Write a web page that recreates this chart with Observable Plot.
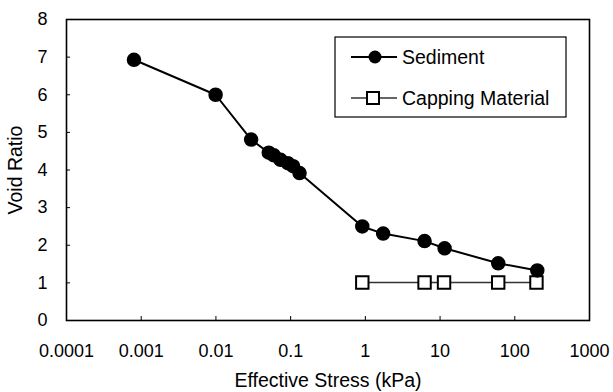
<!DOCTYPE html>
<html>
<head>
<meta charset="utf-8">
<script src="https://cdn.jsdelivr.net/npm/d3@7"></script>
<script src="https://cdn.jsdelivr.net/npm/@observablehq/plot@0.6"></script>
<style>
  html, body { margin: 0; padding: 0; background: #fff; }
  #chart { position: relative; width: 613px; height: 392px; }
</style>
</head>
<body>
<div id="chart"></div>
<script>
// ---- data ----
const sedimentStress = [0.0008, 0.0099, 0.0296, 0.051, 0.0596, 0.0733, 0.0918, 0.108, 0.1316, 0.91, 1.73, 6.2, 11.5, 60, 200];
const sedimentVoid   = [6.93, 6.00, 4.81, 4.46, 4.39, 4.27, 4.18, 4.10, 3.92, 2.50, 2.31, 2.11, 1.92, 1.52, 1.33];
const cappingStress  = [0.91, 6.2, 11.3, 60, 195];
const cappingVoid    = [1.01, 1.01, 1.01, 1.01, 1.01];
const xTicks = [0.0001, 0.001, 0.01, 0.1, 1, 10, 100, 1000];
const xTickLabels = ["0.0001", "0.001", "0.01", "0.1", "1", "10", "100", "1000"];
const yTicks = [0, 1, 2, 3, 4, 5, 6, 7, 8];
const seriesNames = ["Sediment", "Capping Material"];

const sediment = sedimentStress.map((s, i) => ({s, e: sedimentVoid[i]}));
const capping = cappingStress.map((s, i) => ({s, e: cappingVoid[i]}));

const W = 613, H = 392;
const mL = 66, mR = 24, mT = 19, mB = 72;
const innerW = W - mL - mR, innerH = H - mT - mB;

const chart = Plot.plot({
  width: W, height: H,
  marginLeft: mL, marginRight: mR, marginTop: mT, marginBottom: mB,
  style: {fontFamily: "'Liberation Sans', Arial, sans-serif", fontSize: "18px", color: "black", background: "white"},
  x: {type: "log", domain: [0.0001, 1000]},
  y: {domain: [0, 8]},
  marks: [
    Plot.axisX(xTicks, {tickSize: 0, tickPadding: 24, tickFormat: d => xTickLabels[xTicks.indexOf(d)], fontSize: 18, label: null}),
    Plot.axisX({ticks: [], label: "Effective Stress (kPa)", labelAnchor: "center", labelArrow: "none", labelOffset: 66, fontSize: 19.5}),
    Plot.axisY(yTicks, {tickSize: 0, tickPadding: 19, tickFormat: d => String(d), fontSize: 18, label: null}),
    Plot.axisY({ticks: [], label: "Void Ratio", labelAnchor: "center", labelArrow: "none", labelOffset: 58, fontSize: 19.5}),
    Plot.tickX(xTicks, {x: d => d, insetTop: innerH - 4, stroke: "black", strokeWidth: 1}),
    Plot.tickY(yTicks, {y: d => d, insetRight: innerW - 4, stroke: "black", strokeWidth: 1}),
    Plot.frame({stroke: "black", strokeWidth: 1.6}),
    Plot.line(capping, {x: "s", y: "e", stroke: "#333", strokeWidth: 1.3}),
    Plot.dot(capping, {x: "s", y: "e", symbol: "square", r: 7, fill: "white", stroke: "black", strokeWidth: 2}),
    Plot.line(sediment, {x: "s", y: "e", stroke: "black", strokeWidth: 2}),
    Plot.dot(sediment, {x: "s", y: "e", r: 6.5, fill: "black", stroke: "black"})
  ]
});

document.getElementById("chart").appendChild(chart);

// ---- legend ----
const svg = d3.select(chart);
const lg = svg.append("g")
  .attr("font-family", "'Liberation Sans', Arial, sans-serif")
  .attr("font-size", 19.5)
  .attr("text-anchor", "start");
lg.append("rect").attr("x", 335).attr("y", 37).attr("width", 231).attr("height", 80)
  .attr("fill", "white").attr("stroke", "black").attr("stroke-width", 1.2);
// entry 1
lg.append("line").attr("x1", 351).attr("x2", 397).attr("y1", 57).attr("y2", 57).attr("stroke", "black").attr("stroke-width", 2);
lg.append("circle").attr("cx", 375).attr("cy", 57).attr("r", 6.5).attr("fill", "black");
lg.append("text").attr("x", 402).attr("y", 57).attr("dy", "0.35em").attr("text-anchor", "start").text(seriesNames[0]);
// entry 2
lg.append("line").attr("x1", 351).attr("x2", 397).attr("y1", 98).attr("y2", 98).attr("stroke", "#333").attr("stroke-width", 1.3);
lg.append("rect").attr("x", 367).attr("y", 92).attr("width", 12).attr("height", 12).attr("fill", "white").attr("stroke", "black").attr("stroke-width", 2);
lg.append("text").attr("x", 402).attr("y", 98).attr("dy", "0.35em").attr("text-anchor", "start").text(seriesNames[1]);
</script>
</body>
</html>
